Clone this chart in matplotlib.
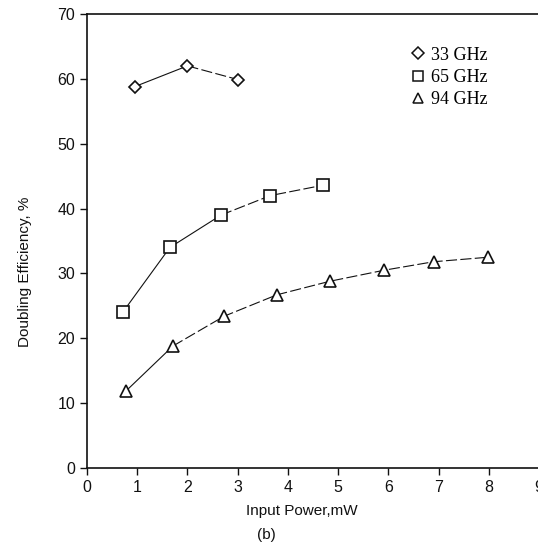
import matplotlib
matplotlib.use("Agg")
import matplotlib.pyplot as plt
from matplotlib.lines import Line2D

plt.rcParams["font.family"] = ["Liberation Sans", "DejaVu Sans"]

x33 = [0.95, 2.0, 3.0]
y33 = [58.8, 62.0, 59.9]
x65 = [0.72, 1.65, 2.67, 3.65, 4.7]
y65 = [24.1, 34.0, 39.0, 42.0, 43.6]
x94 = [0.78, 1.71, 2.73, 3.78, 4.84, 5.92, 6.9, 7.99]
y94 = [11.9, 18.8, 23.4, 26.7, 28.8, 30.5, 31.8, 32.5]
labels = ["33 GHz", "65 GHz", "94 GHz"]
xticks = list(range(10))
yticks = list(range(0, 80, 10))

INK = "#111111"
DASH = (0, (10, 3))

fig = plt.figure(figsize=(5.38, 5.45), dpi=100)
ax = fig.add_axes([87 / 538, 77 / 545, 452 / 538, 454 / 545])

# (series, marker, size, number of solid segments at the start)
series = [(x33, y33, "D", 6.5, 1), (x65, y65, "s", 8.5, 2), (x94, y94, "^", 8.5, 1)]
for xs, ys, m, ms, nsolid in series:
    ax.plot(xs[:nsolid + 1], ys[:nsolid + 1], color=INK, lw=0.8, ls="-")
    ax.plot(xs[nsolid:], ys[nsolid:], color=INK, lw=0.8, ls=DASH)
    ax.plot(xs, ys, ls="none", marker=m, ms=ms, mfc="white", mec=INK, mew=1.2)

ax.set_xlim(0, 9)
ax.set_ylim(0, 70)
ax.set_xticks(xticks)
ax.set_yticks(yticks)
ax.tick_params(labelsize=11.5, colors=INK, length=5, width=1.0)
for s in ax.spines.values():
    s.set_linewidth(1.2)
    s.set_color(INK)

handles = [Line2D([], [], ls="none", marker=m, ms=ms * 0.9, mfc="white", mec=INK, mew=1.1)
           for _, _, m, ms, _ in series]
ax.legend(handles, labels, loc="upper left", bbox_to_anchor=(0.7, 0.948), frameon=False,
          prop={"family": "Liberation Serif", "size": 13}, handlelength=0.6,
          handletextpad=0.45, labelspacing=0.3, borderpad=0)

fig.text(25 / 538, 1 - 272 / 545, "Doubling Efficiency, %", rotation=90,
         ha="center", va="center", fontsize=11, color=INK)
fig.text(302 / 538, 1 - 511 / 545, "Input Power,mW", ha="center", va="center",
         fontsize=11, color=INK)
fig.text(266 / 538, 1 - 535 / 545, "(b)", ha="center", va="center",
         fontsize=11, color=INK)

fig.savefig("out.png", dpi=100, facecolor="white")
